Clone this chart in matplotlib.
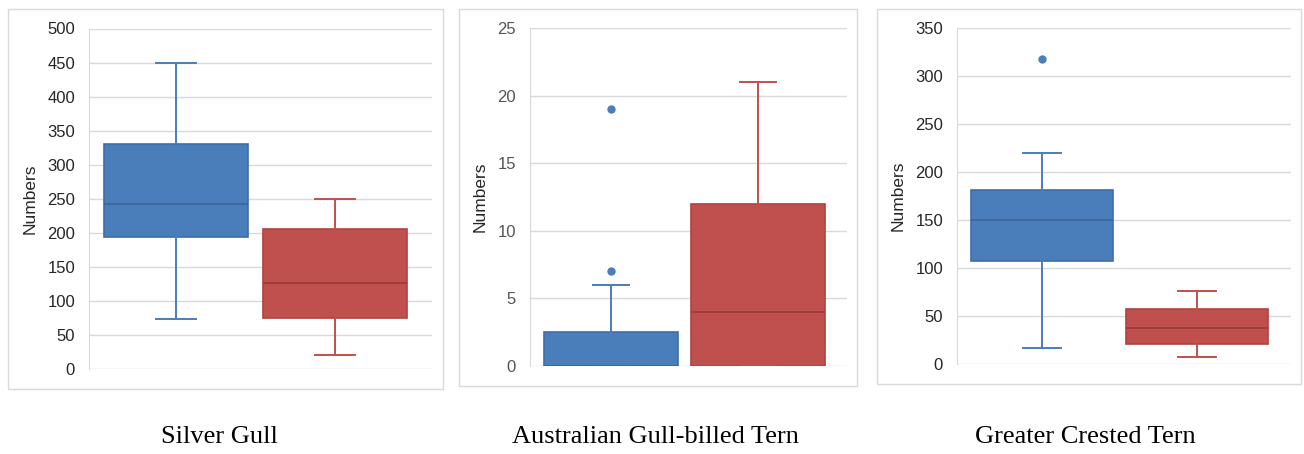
import matplotlib
matplotlib.use("Agg")
import matplotlib.pyplot as plt
from matplotlib.patches import Rectangle

# ---- data (summary statistics) ----
species = ["Silver Gull", "Australian Gull-billed Tern", "Greater Crested Tern"]

sg_blue = dict(whislo=74, q1=194, med=243, q3=331, whishi=449, fliers=[])
sg_red = dict(whislo=21, q1=75, med=127, q3=206, whishi=249, fliers=[])

gb_blue = dict(whislo=0, q1=0, med=0, q3=2.5, whishi=6, fliers=[7, 19])
gb_red = dict(whislo=0, q1=0, med=4, q3=12, whishi=21, fliers=[])

gc_blue = dict(whislo=17, q1=107, med=150, q3=181, whishi=220, fliers=[318])
gc_red = dict(whislo=7, q1=21, med=38, q3=57, whishi=76, fliers=[])

stats = [(sg_blue, sg_red), (gb_blue, gb_red), (gc_blue, gc_red)]
ymax = [500, 25, 350]
ystep = [50, 5, 50]
tick_colors = ["#262626", "#555555", "#262626"]

# ---- layout ----
W, H = 1304, 454
fig = plt.figure(figsize=(W / 100, H / 100), dpi=100)

axes_px = [(89, 432, 28.5, 369), (530, 847, 28.3, 365.7), (957, 1291, 28.3, 364)]
frames_px = [(8, 443, 9, 389), (459, 857, 9, 386), (877, 1301, 9, 384)]
caption_x = [219, 655, 1085]
xlims = [(-0.547, 1.61), (-0.55, 1.605), (-0.548, 1.606)]

blue_face, blue_edge, blue_med = "#4a7ebb", "#3f6ea8", "#3b659b"
red_face, red_edge, red_med = "#c0504d", "#b0423f", "#9c3936"

for i in range(3):
    x0, x1, yt, yb = axes_px[i]
    ax = fig.add_axes([x0 / W, (H - yb) / H, (x1 - x0) / W, (yb - yt) / H])
    b, r = stats[i]
    for pos, st, fc, ec, mc in [(0, b, blue_face, blue_edge, blue_med),
                                 (1, r, red_face, red_edge, red_med)]:
        ax.bxp([st], positions=[pos], widths=0.91, patch_artist=True,
               showfliers=True,
               boxprops=dict(facecolor=fc, edgecolor=ec, linewidth=1.2),
               medianprops=dict(color=mc, linewidth=1.2),
               whiskerprops=dict(color=fc, linewidth=1.4),
               capprops=dict(color=fc, linewidth=1.4),
               flierprops=dict(marker="o", markerfacecolor=fc,
                               markeredgecolor=fc, markersize=5),
               capwidths=0.25, zorder=3)
    ax.set_xlim(*xlims[i])
    ax.set_ylim(0, ymax[i])
    ax.set_yticks(range(0, ymax[i] + 1, ystep[i]))
    ax.set_xticks([])
    ax.grid(axis="y", color="#d9d9d9", linewidth=1.0, zorder=0)
    ax.set_axisbelow(True)
    for s in ["top", "right", "bottom"]:
        ax.spines[s].set_visible(False)
    ax.spines["left"].set_color("#d9d9d9")
    ax.tick_params(axis="y", length=0, pad=10, labelsize=12,
                   labelcolor=tick_colors[i])
    for lab in ax.get_yticklabels():
        lab.set_fontfamily("Liberation Sans")
    ax.set_ylabel("Numbers", fontsize=12.5, family="Liberation Sans",
                  color="#262626", labelpad=7)

    fx0, fx1, fy0, fy1 = frames_px[i]
    fig.patches.append(Rectangle((fx0 / W, (H - fy1) / H), (fx1 - fx0) / W,
                                 (fy1 - fy0) / H, transform=fig.transFigure,
                                 fill=False, edgecolor="#d9d9d9", linewidth=1.0))
    fig.text(caption_x[i] / W, (H - 437) / H, species[i], ha="center",
             va="center", fontsize=19, family="Liberation Serif", color="black")

fig.savefig("out.png", dpi=100)
